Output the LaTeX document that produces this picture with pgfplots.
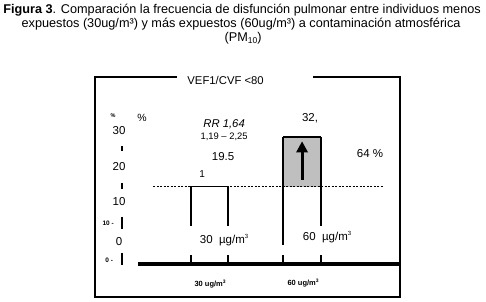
\documentclass[border=0pt]{standalone}
\usepackage{pgfplots}
\pgfplotsset{compat=1.18}
\usepackage{fontspec}
\setmainfont{Liberation Sans}
\usetikzlibrary{arrows.meta}
\begin{document}
\begin{tikzpicture}
\begin{axis}[scale only axis, width=486pt, height=302pt,
  xmin=0, xmax=486, ymin=-9.60, ymax=66.70, hide axis, clip=false]
\path (rel axis cs:0,0) rectangle (rel axis cs:1,1);
% title
\node[font=\fontsize{12.7}{14}\selectfont] at (axis cs:242,64.17) {\textbf{Figura 3}. Comparación la frecuencia de disfunción pulmonar entre individuos menos};
\node[font=\fontsize{12.7}{14}\selectfont] at (axis cs:241,60.64) {expuestos (30ug/m³) y más expuestos (60ug/m³) a contaminación atmosférica};
\node[font=\fontsize{12.7}{14}\selectfont] at (axis cs:243,57.10) {(PM\raisebox{-0.35ex}{\fontsize{8.5}{9}\selectfont 10})};
% frame
\addplot[black, line width=1.3pt] coordinates {(177,47.25)(95,47.25)(95,-8.34)(400,-8.34)(400,47.25)(313,47.25)};
% bars (fills)
\addplot[ybar, bar width=37, fill=white, draw=none] coordinates {(209.5,19.5)};
\addplot[ybar, bar width=38, fill=white, draw=none] coordinates {(302,32)};
\addplot[fill=gray!50, draw=none] coordinates {(283,19.5)(321,19.5)(321,32)(283,32)} -- cycle;
% dashed reference
\addplot[black, dash pattern=on 2pt off 1.5pt, line width=0.7pt] coordinates {(153,19.5)(383,19.5)};
% bar outlines with gaps
\addplot[black, line width=1.3pt, unbounded coords=jump] coordinates {(191,0)(191,2.3)(191,nan)(191,9.6)(191,19.5)(228,19.5)(228,9.6)(228,nan)(228,2.3)(228,0)};
\addplot[black, line width=1.3pt, unbounded coords=jump] coordinates {(283,0)(283,2.3)(283,nan)(283,4.8)(283,32)(321,32)(321,9.6)(321,nan)(321,2.3)(321,0)};
\addplot[black, line width=2.2pt] coordinates {(283,32)(321,32)};
% baseline
\addplot[black, line width=3.5pt] coordinates {(138,0)(400,0)};
% left tick bars
\addplot[black, line width=2.6pt, unbounded coords=jump] coordinates {(122,29.81)(122,28.55)(122,nan)(122,20.47)(122,18.95)(122,nan)(122,11.87)(122,8.84)(122,nan)(122,2.78)(122,-0.25)};
% arrow
\draw[black, line width=3pt, -{Triangle[length=11pt,width=11pt]}] (axis cs:302,21.2) -- (axis cs:302,31.0);
% texts
\node[font=\fontsize{11.3}{12}\selectfont] at (axis cs:225.5,46.49) {VEF1/CVF <80};
\node[font=\fontsize{5.5}{6}\selectfont\bfseries] at (axis cs:113,37.39) {\%};
\node[font=\fontsize{10.5}{12}\selectfont] at (axis cs:142,36.89) {\%};
\node[font=\fontsize{11.5}{12}\selectfont] at (axis cs:119,33.60) {30};
\node[font=\fontsize{11.5}{12}\selectfont] at (axis cs:119,24.51) {20};
\node[font=\fontsize{11.5}{12}\selectfont] at (axis cs:119,15.66) {10};
\node[font=\fontsize{11.5}{12}\selectfont] at (axis cs:119,5.56) {0};
\node[font=\fontsize{6.5}{7}\selectfont\bfseries] at (axis cs:108,10.36) {10 -};
\node[font=\fontsize{6.5}{7}\selectfont\bfseries] at (axis cs:109,1.01) {0 -};
\node[font=\fontsize{11.3}{12}\selectfont\itshape] at (axis cs:224,35.4) {RR 1,64};
\node[font=\fontsize{9.4}{10}\selectfont] at (axis cs:224,32.2) {1,19 – 2,25};
\node[font=\fontsize{11.5}{12}\selectfont] at (axis cs:223,27.03) {19.5};
\node[font=\fontsize{10}{12}\selectfont] at (axis cs:202,22.74) {1};
\node[font=\fontsize{11.5}{12}\selectfont] at (axis cs:310,36.9) {32,};
\node[font=\fontsize{11.5}{12}\selectfont] at (axis cs:370,27.8) {64 \%};
\node[font=\fontsize{11.5}{12}\selectfont] at (axis cs:224,6.06) {30\ \ µg/m\raisebox{0.9ex}{\fontsize{6}{7}\selectfont 3}};
\node[font=\fontsize{11.5}{12}\selectfont] at (axis cs:327,6.82) {60\ \ µg/m\raisebox{0.9ex}{\fontsize{6}{7}\selectfont 3}};
\node[font=\fontsize{7.5}{8}\selectfont\bfseries] at (axis cs:210,-5.05) {30 ug/m\raisebox{0.8ex}{\fontsize{5}{6}\selectfont 3}};
\node[font=\fontsize{7.5}{8}\selectfont\bfseries] at (axis cs:303,-4.8) {60 ug/m\raisebox{0.8ex}{\fontsize{5}{6}\selectfont 3}};
\end{axis}
\end{tikzpicture}
\end{document}
